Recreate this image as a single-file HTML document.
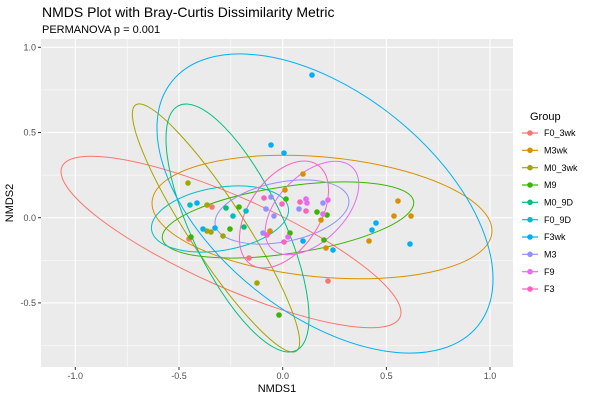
<!DOCTYPE html>
<html><head><meta charset="utf-8"><style>body{margin:0;background:#fff}svg{display:block;font-family:"Liberation Sans","DejaVu Sans",sans-serif}</style></head><body>
<svg width="600" height="400" xmlns="http://www.w3.org/2000/svg">
<text x="42" y="17" font-size="14" fill="#000">NMDS Plot with Bray-Curtis Dissimilarity Metric</text>
<text x="42" y="33" font-size="11" fill="#000">PERMANOVA p = 0.001</text>
<rect x="41" y="39" width="472" height="328" fill="#ebebeb"/>
<g stroke="#fff" stroke-width="0.5">
<line x1="127.2" y1="39" x2="127.2" y2="367"/><line x1="230.9" y1="39" x2="230.9" y2="367"/><line x1="334.6" y1="39" x2="334.6" y2="367"/><line x1="438.3" y1="39" x2="438.3" y2="367"/>
<line x1="41" y1="89.9" x2="513" y2="89.9"/><line x1="41" y1="175.1" x2="513" y2="175.1"/><line x1="41" y1="260.3" x2="513" y2="260.3"/><line x1="41" y1="345.5" x2="513" y2="345.5"/>
</g>
<g stroke="#fff" stroke-width="1.1">
<line x1="75.3" y1="39" x2="75.3" y2="367"/><line x1="179" y1="39" x2="179" y2="367"/><line x1="282.7" y1="39" x2="282.7" y2="367"/><line x1="386.4" y1="39" x2="386.4" y2="367"/><line x1="490" y1="39" x2="490" y2="367"/>
<line x1="41" y1="47.3" x2="513" y2="47.3"/><line x1="41" y1="132.5" x2="513" y2="132.5"/><line x1="41" y1="217.7" x2="513" y2="217.7"/><line x1="41" y1="302.9" x2="513" y2="302.9"/>
</g>
<g fill="none" stroke-width="1">
<ellipse cx="0" cy="0" rx="185" ry="45" transform="translate(231,242) rotate(24)" stroke="#F8766D"/>
<ellipse cx="0" cy="0" rx="170.6" ry="60" transform="translate(322,217) rotate(5.3)" stroke="#D89000"/>
<ellipse cx="0" cy="0" rx="147" ry="28" transform="translate(216,228) rotate(56.9)" stroke="#A3A500"/>
<ellipse cx="0" cy="0" rx="127" ry="33.5" transform="translate(288,220) rotate(-8.4)" stroke="#39B600"/>
<ellipse cx="0" cy="0" rx="135.8" ry="45.3" transform="translate(237.5,228) rotate(64.4)" stroke="#00BF7D"/>
<ellipse cx="0" cy="0" rx="69.3" ry="31.5" transform="translate(220,219) rotate(-9.3)" stroke="#00BFC4"/>
<ellipse cx="0" cy="0" rx="195.8" ry="110.7" transform="translate(325,203.5) rotate(38.5)" stroke="#00B0F6"/>
<ellipse cx="0" cy="0" rx="68" ry="29.8" transform="translate(282,212) rotate(-11.1)" stroke="#9590FF"/>
<ellipse cx="0" cy="0" rx="57.3" ry="33" transform="translate(312,208) rotate(-45)" stroke="#E76BF3"/>
<ellipse cx="0" cy="0" rx="59.9" ry="35.4" transform="translate(284,214.5) rotate(-56)" stroke="#FF62BC"/>
</g>
<g>
<g fill="#F8766D"><circle cx="212" cy="207" r="2.8"/><circle cx="189" cy="239" r="2.8"/><circle cx="249" cy="258" r="2.8"/><circle cx="328" cy="281" r="2.8"/></g>
<g fill="#D89000"><circle cx="285" cy="190" r="2.8"/><circle cx="303" cy="174" r="2.8"/><circle cx="321" cy="220" r="2.8"/><circle cx="398" cy="201" r="2.8"/><circle cx="394" cy="216" r="2.8"/><circle cx="411" cy="216" r="2.8"/><circle cx="369" cy="241" r="2.8"/><circle cx="326" cy="248" r="2.8"/><circle cx="270" cy="231" r="2.8"/></g>
<g fill="#A3A500"><circle cx="188" cy="183" r="2.8"/><circle cx="207" cy="205" r="2.8"/><circle cx="223" cy="236" r="2.8"/><circle cx="211" cy="232" r="2.8"/><circle cx="207" cy="231" r="2.8"/><circle cx="257" cy="283" r="2.8"/></g>
<g fill="#39B600"><circle cx="239" cy="207" r="2.8"/><circle cx="286" cy="199" r="2.8"/><circle cx="317" cy="212" r="2.8"/><circle cx="327" cy="215" r="2.8"/><circle cx="324" cy="240" r="2.8"/><circle cx="290" cy="233" r="2.8"/><circle cx="230" cy="229" r="2.8"/><circle cx="191" cy="237" r="2.8"/><circle cx="279" cy="315" r="2.8"/></g>
<g fill="#00BF7D"><circle cx="226" cy="208" r="2.8"/><circle cx="244" cy="227" r="2.8"/></g>
<g fill="#00BFC4"><circle cx="190" cy="205" r="2.8"/><circle cx="246" cy="211" r="2.8"/><circle cx="233" cy="216" r="2.8"/></g>
<g fill="#00B0F6"><circle cx="312" cy="75" r="2.8"/><circle cx="271" cy="145" r="2.8"/><circle cx="284" cy="153" r="2.8"/><circle cx="197" cy="203" r="2.8"/><circle cx="376" cy="223" r="2.8"/><circle cx="372" cy="230" r="2.8"/><circle cx="410" cy="244" r="2.8"/><circle cx="333" cy="250" r="2.8"/><circle cx="303" cy="241" r="2.8"/><circle cx="215" cy="228" r="2.8"/><circle cx="203" cy="229" r="2.8"/></g>
<g fill="#9590FF"><circle cx="271" cy="197" r="2.8"/><circle cx="266" cy="209" r="2.8"/><circle cx="274" cy="216" r="2.8"/><circle cx="299" cy="209" r="2.8"/><circle cx="323" cy="203" r="2.8"/><circle cx="263" cy="233" r="2.8"/></g>
<g fill="#E76BF3"><circle cx="306" cy="199" r="2.8"/><circle cx="307" cy="203" r="2.8"/><circle cx="328" cy="200" r="2.8"/><circle cx="323" cy="214" r="2.8"/><circle cx="288" cy="237" r="2.8"/></g>
<g fill="#FF62BC"><circle cx="264" cy="198" r="2.8"/><circle cx="282" cy="204" r="2.8"/><circle cx="300" cy="202" r="2.8"/><circle cx="306" cy="211" r="2.8"/><circle cx="284" cy="242" r="2.8"/><circle cx="267" cy="235" r="2.8"/></g>
</g>
<g stroke="#333" stroke-width="1">
<line x1="75.3" y1="367" x2="75.3" y2="370"/><line x1="179" y1="367" x2="179" y2="370"/><line x1="282.7" y1="367" x2="282.7" y2="370"/><line x1="386.4" y1="367" x2="386.4" y2="370"/><line x1="490" y1="367" x2="490" y2="370"/>
<line x1="38" y1="47.3" x2="41" y2="47.3"/><line x1="38" y1="132.5" x2="41" y2="132.5"/><line x1="38" y1="217.7" x2="41" y2="217.7"/><line x1="38" y1="302.9" x2="41" y2="302.9"/>
</g>
<g font-size="9" fill="#4d4d4d" text-anchor="middle">
<text x="75.3" y="379">-1.0</text><text x="179" y="379">-0.5</text><text x="282.7" y="379">0.0</text><text x="386.4" y="379">0.5</text><text x="490" y="379">1.0</text>
</g>
<g font-size="9" fill="#4d4d4d" text-anchor="end">
<text x="36" y="50.5">1.0</text><text x="36" y="135.7">0.5</text><text x="36" y="220.9">0.0</text><text x="36" y="306.1">-0.5</text>
</g>
<text x="277" y="392" font-size="11" text-anchor="middle">NMDS1</text>
<text transform="translate(13,203) rotate(-90)" font-size="11" text-anchor="middle">NMDS2</text>
<text x="530" y="120" font-size="11">Group</text>
<g font-size="9" fill="#000">
<g stroke-width="1.2">
<line x1="522" y1="133" x2="538" y2="133" stroke="#F8766D"/><circle cx="530" cy="133" r="2.8" fill="#F8766D"/>
<line x1="522" y1="150.3" x2="538" y2="150.3" stroke="#D89000"/><circle cx="530" cy="150.3" r="2.8" fill="#D89000"/>
<line x1="522" y1="167.7" x2="538" y2="167.7" stroke="#A3A500"/><circle cx="530" cy="167.7" r="2.8" fill="#A3A500"/>
<line x1="522" y1="185" x2="538" y2="185" stroke="#39B600"/><circle cx="530" cy="185" r="2.8" fill="#39B600"/>
<line x1="522" y1="202.3" x2="538" y2="202.3" stroke="#00BF7D"/><circle cx="530" cy="202.3" r="2.8" fill="#00BF7D"/>
<line x1="522" y1="219.7" x2="538" y2="219.7" stroke="#00BFC4"/><circle cx="530" cy="219.7" r="2.8" fill="#00BFC4"/>
<line x1="522" y1="237" x2="538" y2="237" stroke="#00B0F6"/><circle cx="530" cy="237" r="2.8" fill="#00B0F6"/>
<line x1="522" y1="254.3" x2="538" y2="254.3" stroke="#9590FF"/><circle cx="530" cy="254.3" r="2.8" fill="#9590FF"/>
<line x1="522" y1="271.7" x2="538" y2="271.7" stroke="#E76BF3"/><circle cx="530" cy="271.7" r="2.8" fill="#E76BF3"/>
<line x1="522" y1="289" x2="538" y2="289" stroke="#FF62BC"/><circle cx="530" cy="289" r="2.8" fill="#FF62BC"/>
</g>
<text x="544" y="136.2">F0_3wk</text><text x="544" y="153.5">M3wk</text><text x="544" y="170.9">M0_3wk</text><text x="544" y="188.2">M9</text><text x="544" y="205.5">M0_9D</text><text x="544" y="222.9">F0_9D</text><text x="544" y="240.2">F3wk</text><text x="544" y="257.5">M3</text><text x="544" y="274.9">F9</text><text x="544" y="292.2">F3</text>
</g>
</svg>
</body></html>
